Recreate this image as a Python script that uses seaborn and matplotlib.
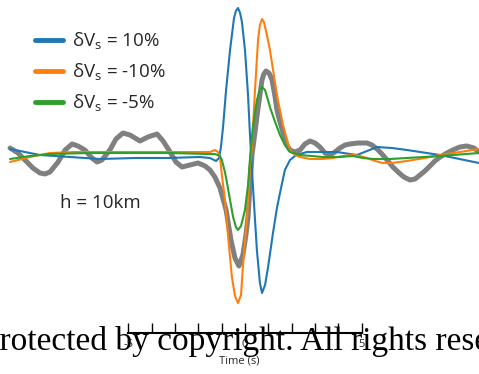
import matplotlib
matplotlib.use('Agg')
import matplotlib.pyplot as plt
import numpy as np
import pandas as pd
import seaborn as sns

# ---------------- data (time in s, normalised amplitude) ----------------
obs_t = [-10.07, -9.73, -9.43, -9.09, -8.79, -8.57, -8.36, -8.01, -7.71, -7.41,
         -7.16, -6.86, -6.56, -6.34, -6.13, -5.79, -5.53, -5.23, -4.93, -4.50,
         -4.16, -3.77, -3.51, -3.21, -2.96, -2.70, -2.36, -2.01, -1.71, -1.50,
         -1.29, -1.07, -0.81, -0.60, -0.43, -0.26, -0.09, 0.04, 0.13, 0.21,
         0.30, 0.43, 0.51, 0.64, 0.73, 0.81, 0.90, 1.03, 1.16, 1.29,
         1.37, 1.50, 1.63, 1.80, 1.93, 2.14, 2.36, 2.57, 2.79, 3.00,
         3.21, 3.43, 3.64, 3.86, 4.07, 4.29, 4.50, 4.84, 5.23, 5.44,
         5.66, 5.87, 6.09, 6.34, 6.56, 6.81, 7.07, 7.29, 7.50, 7.71,
         7.93, 8.14, 8.36, 8.66, 8.91, 9.21, 9.51, 9.81, 10.03]
obs_a = [0.09, 0.04, -0.03, -0.11, -0.16, -0.17, -0.15, -0.05, 0.07, 0.13,
         0.11, 0.07, -0.01, -0.05, -0.03, 0.07, 0.18, 0.24, 0.22, 0.16,
         0.20, 0.23, 0.16, 0.05, -0.05, -0.10, -0.08, -0.06, -0.09, -0.13,
         -0.20, -0.31, -0.53, -0.83, -1.01, -1.09, -0.98, -0.78, -0.60, -0.30,
         0.02, 0.25, 0.40, 0.62, 0.77, 0.83, 0.86, 0.84, 0.77, 0.60,
         0.47, 0.35, 0.24, 0.12, 0.07, 0.05, 0.07, 0.13, 0.16, 0.14,
         0.10, 0.04, 0.02, 0.05, 0.09, 0.12, 0.13, 0.14, 0.14, 0.12,
         0.08, 0.03, -0.03, -0.10, -0.15, -0.20, -0.23, -0.22, -0.18, -0.14,
         -0.09, -0.04, 0.00, 0.04, 0.07, 0.10, 0.11, 0.09, 0.05]

plus10_t = [-10.07, -8.79, -7.50, -6.21, -4.71, -3.34, -1.93, -1.50, -1.24, -1.11,
            -1.03, -0.94, -0.81, -0.64, -0.47, -0.39, -0.30, -0.21, -0.13, 0.00,
            0.13, 0.21, 0.30, 0.39, 0.51, 0.64, 0.73, 0.86, 0.99, 1.20,
            1.37, 1.50, 1.71, 1.93, 2.19, 2.66, 3.30, 3.94, 4.50, 4.80,
            5.23, 5.66, 6.30, 6.94, 8.36, 10.03]
plus10_a = [0.08, 0.02, 0.00, -0.02, -0.01, -0.01, 0.00, -0.01, -0.04, -0.01,
            0.10, 0.30, 0.67, 1.07, 1.39, 1.46, 1.49, 1.44, 1.35, 1.07,
            0.62, 0.24, -0.13, -0.48, -0.93, -1.26, -1.36, -1.28, -1.10, -0.76,
            -0.51, -0.36, -0.13, -0.03, 0.02, 0.05, 0.05, 0.05, 0.03, 0.02,
            0.06, 0.10, 0.09, 0.07, 0.02, -0.06]

minus10_t = [-10.07, -9.21, -8.36, -7.29, -6.21, -4.71, -3.34, -1.93, -1.50, -1.29,
             -1.16, -1.07, -0.99, -0.86, -0.73, -0.56, -0.43, -0.30, -0.17, -0.09,
             0.09, 0.21, 0.30, 0.43, 0.56, 0.64, 0.73, 0.81, 0.94, 1.07,
             1.29, 1.41, 1.63, 1.80, 1.93, 2.14, 2.36, 2.79, 3.30, 3.77,
             4.20, 4.63, 4.93, 5.23, 5.57, 5.91, 6.30, 6.94, 7.71, 8.36,
             9.21, 10.03]
minus10_a = [-0.05, 0.00, 0.04, 0.05, 0.05, 0.05, 0.05, 0.05, 0.05, 0.07,
             0.05, 0.00, -0.18, -0.43, -0.78, -1.20, -1.39, -1.46, -1.38, -1.10,
             -0.60, -0.10, 0.12, 0.67, 1.17, 1.32, 1.38, 1.35, 1.22, 1.07,
             0.74, 0.57, 0.32, 0.17, 0.07, 0.02, 0.00, -0.02, -0.02, -0.01,
             0.01, 0.02, 0.01, -0.01, -0.04, -0.06, -0.06, -0.04, -0.01, 0.02,
             0.05, 0.08]

minus5_t = [-10.07, -9.21, -8.36, -6.64, -4.80, -3.21, -1.63, -1.29, -1.07, -0.99,
            -0.86, -0.77, -0.64, -0.51, -0.39, -0.30, -0.17, 0.00, 0.13, 0.21,
            0.34, 0.51, 0.64, 0.73, 0.86, 1.07, 1.29, 1.50, 1.71, 1.93,
            2.36, 3.34, 4.07, 4.63, 5.06, 5.49, 6.21, 6.94, 8.36, 10.03]
minus5_a = [-0.02, 0.01, 0.03, 0.04, 0.04, 0.04, 0.03, 0.03, 0.01, -0.03,
            -0.15, -0.26, -0.43, -0.60, -0.70, -0.73, -0.69, -0.53, -0.28, -0.03,
            0.30, 0.57, 0.67, 0.70, 0.67, 0.50, 0.35, 0.22, 0.12, 0.05,
            0.02, 0.00, 0.00, 0.01, -0.01, -0.02, -0.02, -0.01, 0.01, 0.04]

series_labels = [r'δV$_\mathregular{s}$ = 10%',
                 r'δV$_\mathregular{s}$ = -10%',
                 r'δV$_\mathregular{s}$ = -5%']
series_colors = ['#1f77b4', '#ff7f0e', '#2ca02c']
tick_values = [-5, -4, -3, -2, -1, 0, 1, 2, 3, 4, 5]
tick_labels = ['-5', '', '', '', '', '0', '', '', '', '', '5']
depth_label = 'h = 10km'
x_label = 'Time (s)'
watermark = 'Protected by copyright. All rights reserved.'

# ---------------- tables ----------------
obs_df = pd.DataFrame({'t': obs_t, 'a': obs_a})
syn_df = pd.concat([
    pd.DataFrame({'t': plus10_t, 'a': plus10_a, 'model': series_labels[0]}),
    pd.DataFrame({'t': minus10_t, 'a': minus10_a, 'model': series_labels[1]}),
    pd.DataFrame({'t': minus5_t, 'a': minus5_a, 'model': series_labels[2]}),
], ignore_index=True)

# ---------------- style ----------------
sns.set_style('white')
plt.rcParams['font.family'] = ['Open Sans', 'DejaVu Sans']
plt.rcParams['mathtext.fontset'] = 'custom'
plt.rcParams['mathtext.rm'] = 'Open Sans'
plt.rcParams['axes.unicode_minus'] = False

fig = plt.figure(figsize=(4.79, 3.74), dpi=100)
fig.patch.set_facecolor('white')
ax = fig.add_axes([0, 41 / 374, 1, 333 / 374])
ax.set_facecolor('none')

sns.lineplot(data=obs_df, x='t', y='a', color='#808080', lw=3.6,
             estimator=None, sort=False, ax=ax, legend=False, zorder=1)
sns.lineplot(data=syn_df, x='t', y='a', hue='model', hue_order=series_labels,
             palette=dict(zip(series_labels, series_colors)), lw=1.5,
             estimator=None, sort=False, ax=ax, zorder=2)

ax.set_xlim(-10.5, 10.03)
ax.set_ylim(-1.76, 1.57)

for side in ['left', 'top', 'right']:
    ax.spines[side].set_visible(False)
ax.spines['bottom'].set_bounds(-5, 5)
ax.spines['bottom'].set_linewidth(1.5)
ax.spines['bottom'].set_color('black')

ax.set_yticks([])
ax.set_ylabel('')
ax.set_xticks(tick_values)
ax.set_xticklabels(tick_labels)
ax.tick_params(axis='x', direction='in', length=7, width=1, color='black',
               labelsize=8, pad=4, bottom=True)
ax.set_xlabel(x_label, fontsize=8, labelpad=4)

handles, labels = ax.get_legend_handles_labels()
leg = ax.legend(handles, labels, loc='upper left',
                bbox_to_anchor=(35 / 479, 1 - 31 / 374),
                bbox_transform=fig.transFigure, frameon=False,
                fontsize=13.5, handlelength=1.5, handletextpad=0.5,
                labelspacing=0.5, borderpad=0, borderaxespad=0)
for line in leg.get_lines():
    line.set_linewidth(3.5)

fig.text(60 / 479, 1 - 203 / 374, depth_label, fontsize=13.5,
         ha='left', va='center')

fig.text(-19 / 479, 1 - 350 / 374, watermark, family='Liberation Serif',
         fontsize=24, ha='left', va='baseline', color='black')

fig.savefig('out.png', dpi=100)
